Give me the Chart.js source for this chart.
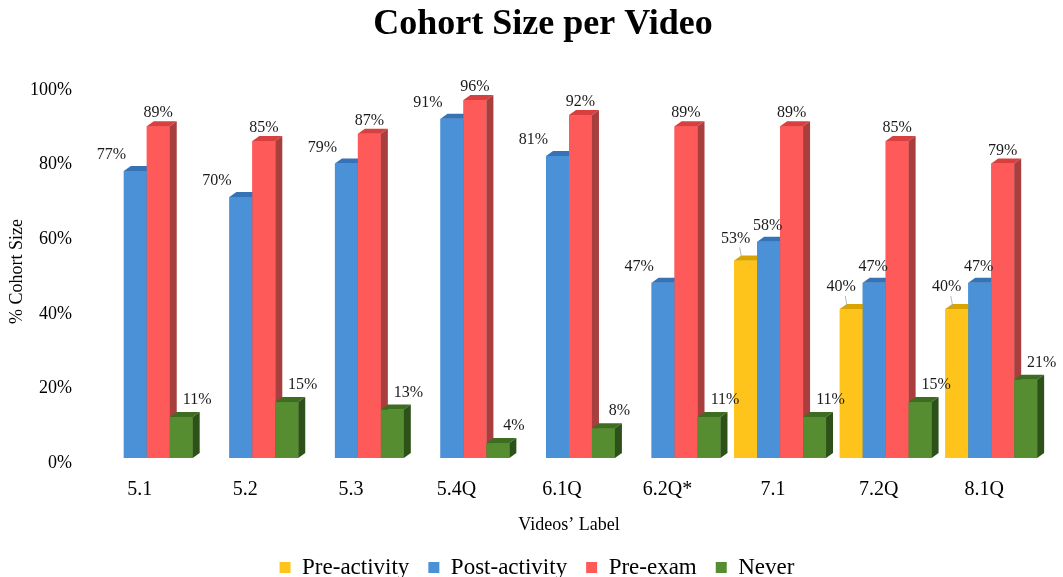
<!DOCTYPE html>
<html>
<head>
<meta charset="utf-8">
<title>Cohort Size per Video</title>
<script src="https://cdn.jsdelivr.net/npm/chart.js@4.4.1/dist/chart.umd.min.js"></script>
<style>
  html, body { margin: 0; padding: 0; background: #fff; }
  #wrap { width: 1063px; height: 577px; }
</style>
</head>
<body>
<div id="wrap"><canvas id="cohortChart" width="1063" height="577"></canvas></div>
<script>
// values
const videoLabels = ['5.1', '5.2', '5.3', '5.4Q', '6.1Q', '6.2Q*', '7.1', '7.2Q', '8.1Q'];
const preActivity = [null, null, null, null, null, null, 53, 40, 40];
const postActivity = [77, 70, 79, 91, 81, 47, 58, 47, 47];
const preExam = [89, 85, 87, 96, 92, 89, 89, 85, 79];
const never = [11, 15, 13, 4, 8, 11, 11, 15, 21];
const yTicks = [0, 20, 40, 60, 80, 100];

const serif = "'Liberation Serif', 'Times New Roman', Times, serif";
Chart.defaults.font.family = serif;
Chart.defaults.color = '#000';

// front, top, side colours per series
const shades = [
    { front: '#FFC41C', top: '#D9A300', side: '#B08400' },
    { front: '#4B91D8', top: '#3573B6', side: '#2B5E96' },
    { front: '#FF5A5A', top: '#D8403F', side: '#A83E3D' },
    { front: '#558D30', top: '#3E6D22', side: '#2D5219' }
];

// where each series puts its value label (relative to the bar top)
function labelSpot(dsIndex, i, x, y) {
    if (dsIndex === 0) return { x: x - 10, y: y - 22, lead: true };
    if (dsIndex === 1) {
        if (preActivity[i] === null) return { x: x - 24, y: y - 16, lead: false };
        return { x: x - 1, y: y - 16, lead: false };
    }
    if (dsIndex === 2) return { x: x, y: y - 13, lead: false };
    return { x: x + 16, y: y - 17, lead: false };
}

const depthX = 7, depthY = 5;

// redraw each bar as a box, series by series from left to right,
// so a bar covers the side face of its left neighbour
const bars3d = {
    id: 'bars3d',
    afterLayout(chart) {
        // title and legend sit centred a bit right of the canvas middle
        if (chart.titleBlock) chart.titleBlock.left = 42;
        if (chart.legend) chart.legend.left = 30;
    },
    afterDatasetsDraw(chart) {
        const ctx = chart.ctx;
        ctx.save();
        chart.data.datasets.forEach(function (ds, d) {
            const c = shades[d];
            chart.getDatasetMeta(d).data.forEach(function (el, i) {
                if (ds.data[i] === null) return;
                const p = el.getProps(['x', 'y', 'base', 'width'], true);
                const l = p.x - p.width / 2, r = p.x + p.width / 2;
                ctx.fillStyle = c.front;
                ctx.fillRect(l, p.y, p.width, p.base - p.y);
                ctx.fillStyle = c.top;
                ctx.beginPath();
                ctx.moveTo(l, p.y);
                ctx.lineTo(r, p.y);
                ctx.lineTo(r + depthX, p.y - depthY);
                ctx.lineTo(l + depthX, p.y - depthY);
                ctx.closePath();
                ctx.fill();
                ctx.fillStyle = c.side;
                ctx.beginPath();
                ctx.moveTo(r, p.y);
                ctx.lineTo(r + depthX, p.y - depthY);
                ctx.lineTo(r + depthX, p.base - depthY);
                ctx.lineTo(r, p.base);
                ctx.closePath();
                ctx.fill();
            });
        });

        ctx.font = '16px ' + serif;
        ctx.textAlign = 'center';
        ctx.textBaseline = 'middle';
        chart.data.datasets.forEach(function (ds, d) {
            chart.getDatasetMeta(d).data.forEach(function (el, i) {
                const v = ds.data[i];
                if (v === null) return;
                const p = el.getProps(['x', 'y'], true);
                const s = labelSpot(d, i, p.x, p.y);
                if (s.lead) {
                    ctx.strokeStyle = '#a6a6a6';
                    ctx.lineWidth = 0.8;
                    ctx.beginPath();
                    ctx.moveTo(s.x + 4, s.y + 9);
                    ctx.lineTo(p.x - 4, p.y - 2);
                    ctx.stroke();
                }
                ctx.fillStyle = '#1a1a1a';
                ctx.fillText(v + '%', s.x, s.y);
            });
        });
        ctx.restore();
    }
};

function makeSet(label, values, idx) {
    return {
        label: label,
        data: values,
        backgroundColor: shades[idx].front,
        borderWidth: 0,
        categoryPercentage: 0.87,
        barPercentage: 1.0
    };
}

new Chart(document.getElementById('cohortChart'), {
    type: 'bar',
    data: {
        labels: videoLabels,
        datasets: [
            makeSet('Pre-activity', preActivity, 0),
            makeSet('Post-activity', postActivity, 1),
            makeSet('Pre-exam', preExam, 2),
            makeSet('Never', never, 3)
        ]
    },
    options: {
        responsive: false,
        animation: false,
        layout: { padding: { left: 0, right: 19, top: 0, bottom: -12 } },
        plugins: {
            title: {
                display: true,
                text: 'Cohort Size per Video',
                font: { size: 36, weight: 'bold', family: serif },
                color: '#000',
                padding: { top: 3, bottom: 39 }
            },
            legend: {
                position: 'bottom',
                labels: {
                    boxWidth: 11,
                    boxHeight: 11,
                    padding: 19,
                    color: '#000',
                    font: { size: 23, family: serif }
                }
            },
            tooltip: { enabled: false }
        },
        scales: {
            x: {
                grid: { display: false, drawTicks: false },
                border: { display: false },
                ticks: { padding: 20, labelOffset: -7, font: { size: 20 }, color: '#000' },
                title: {
                    display: true,
                    text: 'Videos’ Label',
                    font: { size: 18 },
                    color: '#000',
                    padding: { top: 0, bottom: 1 }
                },
                afterFit(scale) { scale.height = 79; }
            },
            y: {
                min: 0,
                max: 100,
                grid: { display: false, drawTicks: false },
                border: { display: false },
                afterBuildTicks(scale) {
                    scale.ticks = yTicks.map(v => ({ value: v }));
                },
                ticks: {
                    padding: 22,
                    labelOffset: 5,
                    font: { size: 18 },
                    color: '#000',
                    callback: v => v + '%'
                },
                title: {
                    display: true,
                    text: '% Cohort Size',
                    font: { size: 18 },
                    color: '#000',
                    padding: { top: 6, bottom: 0 }
                },
                afterFit(scale) { scale.width = 94; }
            }
        }
    },
    plugins: [bars3d]
});
</script>
</body>
</html>
